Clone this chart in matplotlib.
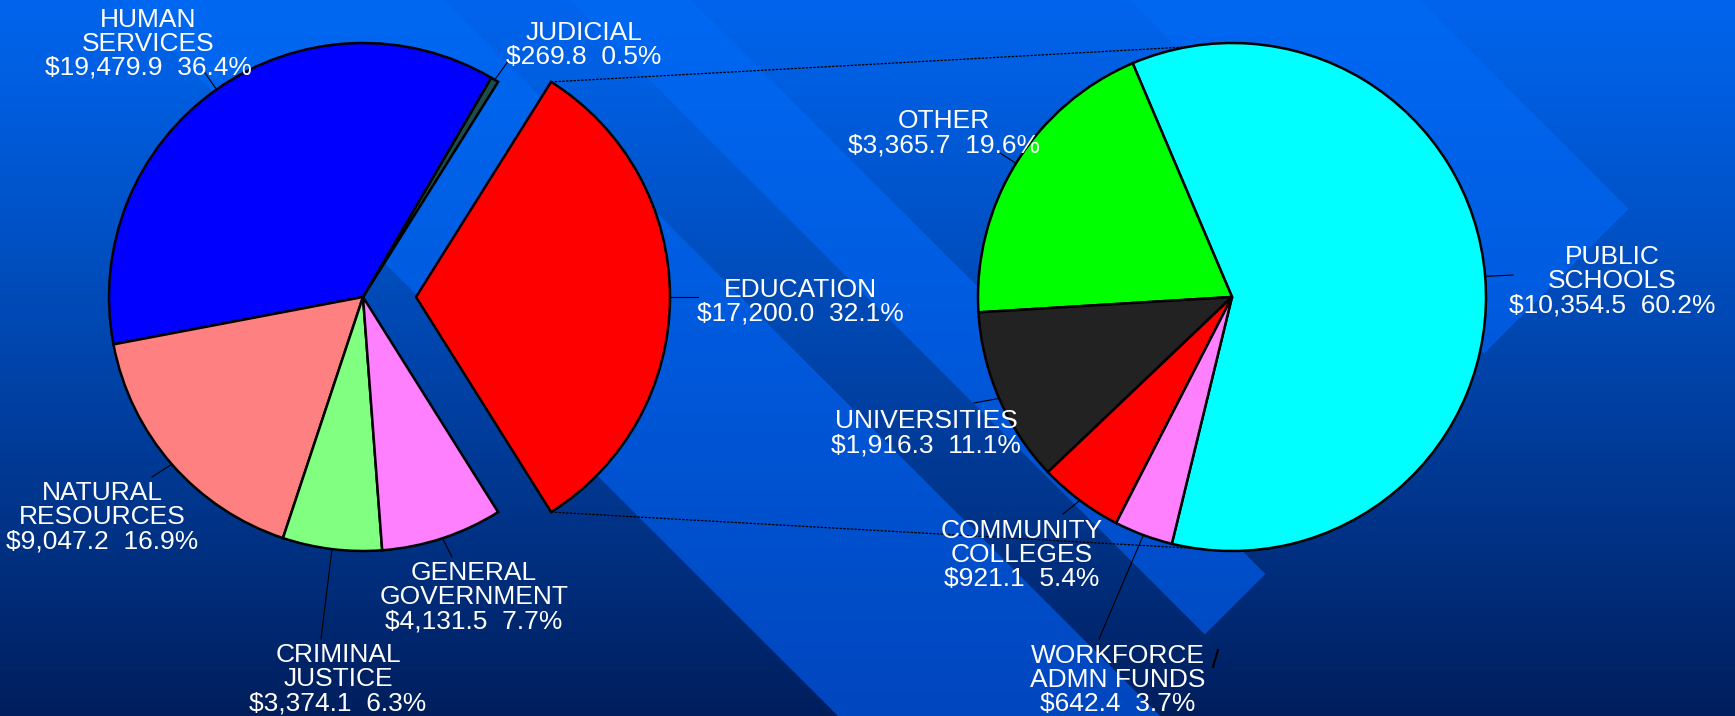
import numpy as np
import matplotlib.pyplot as plt

W, H = 1735, 716

# left pie: budget by area ($ millions)
left_labels = ['EDUCATION', 'JUDICIAL', 'HUMAN\nSERVICES', 'NATURAL\nRESOURCES',
               'CRIMINAL\nJUSTICE', 'GENERAL\nGOVERNMENT']
left_values = [17200.0, 269.8, 19479.9, 9047.2, 3374.1, 4131.5]
left_colors = ['#ff0000', '#1d4c4c', '#0000ff', '#ff8080', '#80ff80', '#ff80ff']

# right pie: education broken down
right_labels = ['PUBLIC\nSCHOOLS', 'OTHER', 'UNIVERSITIES', 'COMMUNITY\nCOLLEGES',
                'WORKFORCE\nADMN FUNDS']
right_values = [10354.5, 3365.7, 1916.3, 921.1, 642.4]
right_colors = ['#00ffff', '#00ff00', '#222222', '#ff0000', '#ff80ff']

# layout, pixel coords measured from the top-left corner
left_center, right_center, radius = (363, 297), (1232, 297), 254
edu_explode = 53
right_start = -103.7
left_text_xy = [(800, 302), (584, 45), (148, 44), (102, 517), (338, 679), (474, 597)]
left_leader_xy = [(698, 297), (509, 60), (203, 70), (152, 477), (321, 639), (452, 557)]
right_text_xy = [(1612, 281), (944, 133), (926, 433), (1022, 555), (1118, 680)]
right_leader_xy = [(1513, 275), (1000, 153), (974, 403), (1063, 514), (1099, 639)]

font = ['Liberation Sans', 'DejaVu Sans']


def up(p):
    return (p[0], H - p[1])


# background: vertical gradient with lighter diagonal ribbons
yy, xx = np.mgrid[0:H, 0:W]
t = ((yy / (H - 1)) ** 1.15)[..., None]
bg = np.array([0, 100, 236]) / 255 * (1 - t) + np.array([0, 30, 92]) / 255 * t
rib = np.array([0, 104, 242]) / 255 * (1 - t) + np.array([0, 70, 190]) / 255 * t
d = xx - yy
s = xx + yy
mask = ((d >= 122) & (d <= 443)) \
    | ((d >= 570) & (d <= 690) & (s <= 1837)) \
    | ((d >= 1130) & (d <= 1418) & (s <= 1835))
img = bg.copy()
img[mask] = rib[mask]

fig = plt.figure(figsize=(W / 100, H / 100), dpi=100)
ax = fig.add_axes([0, 0, 1, 1])
ax.imshow(img, extent=(0, W, 0, H), aspect='auto', zorder=0)

wp = dict(edgecolor='black', linewidth=1.8)


def draw_pie(values, labels, colors, center, start, explode, text_xy, leader_xy):
    total = sum(values)
    cx, cy = up(center)
    ax.pie(values, colors=colors, startangle=start, counterclock=True,
           center=(cx, cy), radius=radius, explode=explode, wedgeprops=wp)
    theta = start
    for v, lab, ex, txy, lxy in zip(values, labels, explode, text_xy, leader_xy):
        mid = np.radians(theta + 180 * v / total)
        ox = cx + ex * np.cos(mid)
        oy = cy + ex * np.sin(mid)
        ex_, ey_ = ox + radius * np.cos(mid), oy + radius * np.sin(mid)
        lx, ly = up(lxy)
        ax.plot([ex_, lx], [ey_, ly], color='black', lw=0.8, zorder=3)
        tx, ty = up(txy)
        ax.text(tx, ty, f'{lab}\n${v:,.1f}  {100 * v / total:.1f}%', color='white',
                fontsize=19, family=font, ha='center', va='center',
                multialignment='center', linespacing=1.0, zorder=4)
        theta += 360 * v / total


left_start = -180 * left_values[0] / sum(left_values)
draw_pie(left_values, left_labels, left_colors, left_center, left_start,
         [edu_explode] + [0] * (len(left_values) - 1), left_text_xy, left_leader_xy)
draw_pie(right_values, right_labels, right_colors, right_center, right_start,
         [0] * len(right_values), right_text_xy, right_leader_xy)

# connector lines from the exploded education slice to the breakdown pie
lcx, lcy = up(left_center)
rcx, rcy = up(right_center)
half = np.radians(180 * left_values[0] / sum(left_values))
for sign, ang in [(1, 100), (-1, -98)]:
    x0 = lcx + edu_explode + radius * np.cos(half)
    y0 = lcy + sign * radius * np.sin(half)
    x1 = rcx + radius * np.cos(np.radians(ang))
    y1 = rcy + radius * np.sin(np.radians(ang))
    ax.plot([x0, x1], [y0, y1], color='black', lw=0.9, ls=(0, (2, 1)), zorder=3)

# small stray tick beside the workforce label
ax.plot([1218, 1213], [H - 650, H - 667], color='black', lw=1.5, zorder=3)

ax.set_xlim(0, W)
ax.set_ylim(0, H)
ax.set_aspect('auto')
ax.axis('off')
fig.savefig('out.png', dpi=100)
